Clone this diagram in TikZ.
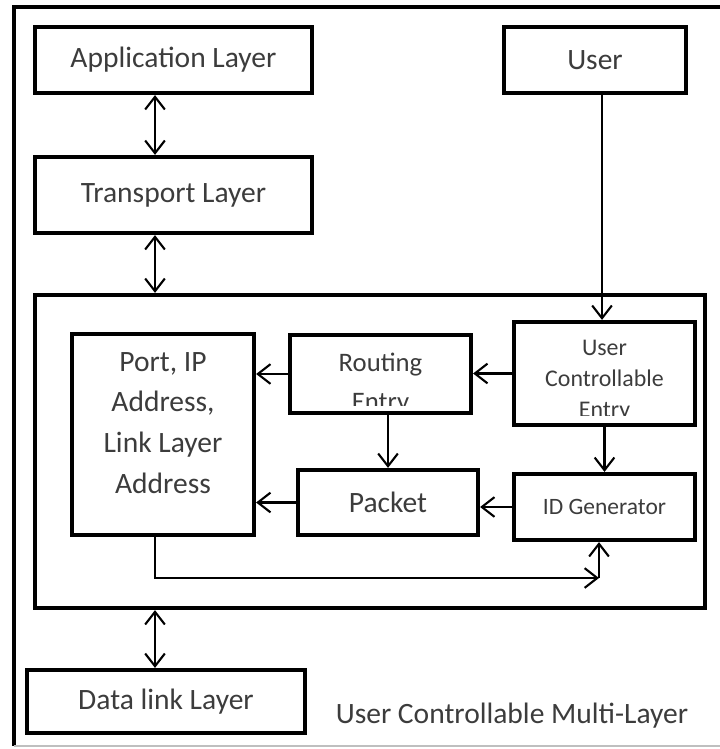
\documentclass[tikz,border=0pt]{standalone}
\usepackage{fontspec}
\setmainfont{Carlito}
\usepackage{xcolor}
\usetikzlibrary{arrows.meta}
\usetikzlibrary{positioning}

\definecolor{txtgray}{HTML}{3C3C3C}

\begin{document}
\begin{tikzpicture}[x=0.025cm,y=-0.025cm,
        blk/.style 2 args={draw,line width=3pt,inner sep=0pt,
            minimum width=#1*0.025cm,minimum height=#2*0.025cm},
        lbl/.style={text=txtgray,align=center,font=\fontsize{21}{29}\selectfont},
        arr/.style={line width=1.5pt,-{Straight Barb[length=9pt,width=14pt,line width=1.5pt]}},
        darr/.style={line width=1.5pt,{Straight Barb[length=9pt,width=14pt,line width=1.5pt]}-{Straight Barb[length=9pt,width=14pt,line width=1.5pt]}}]
        \useasboundingbox (0,0) rectangle (720,749);
        % outer frame
        \draw[line width=3pt] (720,7) -- (14,7) -- (14,746);
        \draw[gray!50,line width=1pt] (14,746) -- (720,746);
        % upper layers
        \node[blk={277}{66},lbl] (app) at (173.5,60) {Application Layer};
        \node[blk={277}{76},lbl] (trans) at (173.5,195) {Transport Layer};
        \node[blk={182}{66},lbl] (user) at (595,60) {User};
        % multi-layer block
        \node[blk={670}{313}] (multi) at (370,451.5) {};
        \node[blk={182}{201}] (port) at (163,434.5) {};
        \node[lbl] (porttxt) at (163,423) {Port, IP\\Address,\\Link Layer\\Address};
        \node[blk={181}{78}] (routing) at (380.5,374) {};
        \node[blk={181}{103}] (uce) at (604.5,373.5) {};
        \node[blk={180}{65},lbl] (packet) at (388,502.5) {Packet};
        \node[blk={181}{66},lbl,font=\fontsize{16.7}{20}\selectfont] (idgen) at (604.5,507) {ID Generator};
        \begin{scope}
            \clip (routing.north west) rectangle ([yshift=7pt]routing.south east);
            \node[lbl,font=\fontsize{19}{28}\selectfont] (routingtxt) at (380.5,384) {Routing\\Entry};
        \end{scope}
        \begin{scope}
            \clip (uce.north west) rectangle ([yshift=8.5pt]uce.south east);
            \node[lbl,font=\fontsize{17}{22}\selectfont] (ucetxt) at (604.5,381) {User\\Controllable\\Entry};
        \end{scope}
        % bottom layer
        \node[blk={278}{63},lbl] (dlink) at (166,701.5) {Data link Layer};
        \node[lbl] (caption) at (512,716) {User Controllable Multi-Layer};
        % connectors
        \coordinate (lnk) at (155,0);
        \coordinate (ulnk) at (602,0);
        \coordinate (turn) at (599,578);
        \draw[darr] (app.south -| lnk) -- (trans.north -| lnk);
        \draw[darr] (trans.south -| lnk) -- (multi.north -| lnk);
        \draw[darr] (multi.south -| lnk) -- (dlink.north -| lnk);
        \draw[arr] (user.south -| ulnk) -- (uce.north -| ulnk);
        \draw[arr] (uce.west) -- (routing.east |- uce.west);
        \draw[arr] (routing.west) -- (routing.west -| port.east);
        \draw[arr] (routing.south -| packet.north) -- (packet.north);
        \draw[arr] (uce.south) -- (idgen.north);
        \draw[arr] (idgen.west) -- (idgen.west -| packet.east);
        \draw[arr] (packet.west) -- (packet.west -| port.east);
        \draw[arr] (port.south -| lnk) |- (turn);
        \draw[arr] (turn) -- (idgen.south -| turn);
    \end{tikzpicture}
\end{document}
